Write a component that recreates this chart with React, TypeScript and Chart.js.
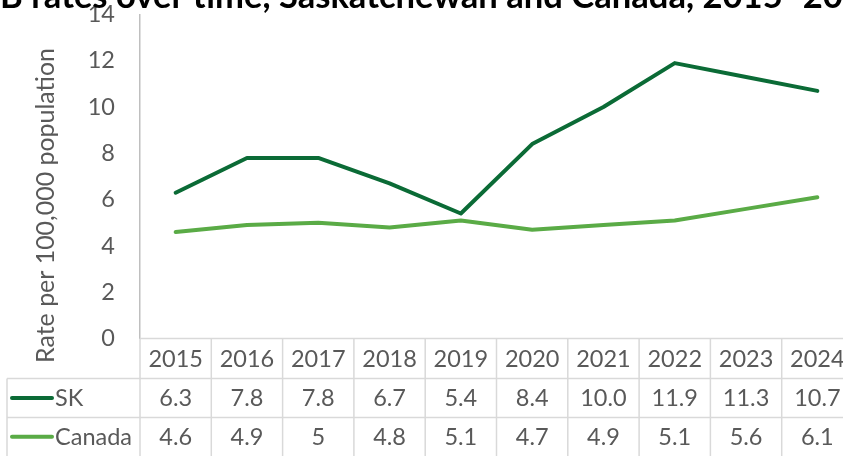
import React, { useEffect, useRef } from "react";
import { Chart, registerables } from "chart.js";

Chart.register(...registerables);

const years = ["2015", "2016", "2017", "2018", "2019", "2020", "2021", "2022", "2023", "2024"];
const skRates = [6.3, 7.8, 7.8, 6.7, 5.4, 8.4, 10.0, 11.9, 11.3, 10.7];
const canadaRates = [4.6, 4.9, 5, 4.8, 5.1, 4.7, 4.9, 5.1, 5.6, 6.1];
const seriesNames = ["SK", "Canada"];
const seriesColors = ["#0b6b36", "#5aab46"];
const yMin = 0;
const yMax = 14;
const yStep = 2;
const titleText = "TB rates over time, Saskatchewan and Canada, 2015–2024";
const yAxisTitle = "Rate per 100,000 population";

const TEXT = "#595959";
const GRID = "#d9d9d9";
const FONT = "Lato";

const tablePlugin = {
  id: "dataTable",
  afterDraw(chart: any) {
    const ctx = chart.ctx as CanvasRenderingContext2D;
    const area = chart.chartArea;
    const xs = chart.scales.x;
    const n = years.length;
    const colW = (area.right - area.left) / n;
    const top = area.bottom;
    const r1 = top + 40;
    const r2 = r1 + 39;
    const bottom = chart.height;
    ctx.save();
    ctx.strokeStyle = GRID;
    ctx.lineWidth = 1.5;
    const ln = (x1: number, y1: number, x2: number, y2: number) => {
      ctx.beginPath();
      ctx.moveTo(x1, y1);
      ctx.lineTo(x2, y2);
      ctx.stroke();
    };
    ln(area.left, top, area.right, top);
    ln(7, r1, area.right, r1);
    ln(7, r2, area.right, r2);
    ln(7, r1, 7, bottom);
    for (let i = 0; i <= n; i++) {
      const x = area.left + i * colW;
      ln(x, top, x, bottom);
    }
    const fs = 23.5;
    ctx.font = `${fs}px ${FONT}`;
    ctx.fillStyle = TEXT;
    ctx.textBaseline = "alphabetic";
    const off = fs * 0.36;
    const rowCenters = [(top + r1) / 2, (r1 + r2) / 2, (r2 + bottom) / 2];
    ctx.textAlign = "center";
    years.forEach((y, i) => {
      ctx.fillText(y, xs.getPixelForValue(i), rowCenters[0] + off);
    });
    skRates.forEach((v, i) => {
      ctx.fillText(v.toFixed(1), xs.getPixelForValue(i), rowCenters[1] + off);
    });
    canadaRates.forEach((v, i) => {
      ctx.fillText(String(v), xs.getPixelForValue(i), rowCenters[2] + off);
    });
    // legend keys
    seriesNames.forEach((name, k) => {
      const cy = rowCenters[k + 1];
      ctx.strokeStyle = seriesColors[k];
      ctx.lineWidth = 4;
      ctx.lineCap = "round";
      ln(12, cy, 52, cy);
      ctx.textAlign = "left";
      ctx.fillStyle = TEXT;
      ctx.fillText(name, 55, cy + off);
    });
    // y axis title
    ctx.save();
    ctx.translate(46, 205.5);
    ctx.rotate(-Math.PI / 2);
    ctx.font = `100px ${FONT}`;
    const aw = ctx.measureText(yAxisTitle).width;
    ctx.font = `${(100 * 315) / aw}px ${FONT}`;
    ctx.textAlign = "center";
    ctx.textBaseline = "middle";
    ctx.fillText(yAxisTitle, 0, 0);
    ctx.restore();
    // chart title (clipped at the top in the reference)
    ctx.font = `bold 100px ${FONT}`;
    const w = ctx.measureText("B rates over time, Saskatchewan and Canada, 2015").width;
    const size = (100 * 783) / w;
    ctx.font = `bold ${size}px ${FONT}`;
    const tW = ctx.measureText("T").width;
    ctx.fillStyle = "#000000";
    ctx.textAlign = "left";
    ctx.textBaseline = "alphabetic";
    ctx.fillText(titleText, -tW, 8);
    ctx.restore();
  },
};

export default function App() {
  const ref = useRef<HTMLCanvasElement | null>(null);
  useEffect(() => {
    if (!ref.current) return;
    const chart = new Chart(ref.current, {
      type: "line",
      data: {
        labels: years,
        datasets: [
          {
            label: seriesNames[0],
            data: skRates,
            borderColor: seriesColors[0],
            backgroundColor: seriesColors[0],
            borderWidth: 4,
            pointRadius: 0,
            fill: false,
            tension: 0,
            borderCapStyle: "round",
            borderJoinStyle: "round",
          },
          {
            label: seriesNames[1],
            data: canadaRates,
            borderColor: seriesColors[1],
            backgroundColor: seriesColors[1],
            borderWidth: 4,
            pointRadius: 0,
            fill: false,
            tension: 0,
            borderCapStyle: "round",
            borderJoinStyle: "round",
          },
        ],
      },
      options: {
        animation: false,
        responsive: false,
        layout: { padding: { top: 14.5, bottom: 117.5, left: 0, right: 7 } },
        plugins: {
          legend: { display: false },
          tooltip: { enabled: false },
          title: { display: false },
        },
        scales: {
          x: { type: "category", offset: true, display: false },
          y: {
            min: yMin,
            max: yMax,
            ticks: {
              stepSize: yStep,
              color: TEXT,
              font: { family: FONT, size: 23.5 },
              padding: 0,
            },
            grid: {
              display: true,
              drawOnChartArea: false,
              drawTicks: true,
              tickLength: 25,
              color: "rgba(0,0,0,0)",
            },
            border: { display: true, color: "#bfbfbf", width: 1.5 },
            afterFit: (s: any) => {
              s.width = 140;
            },
          },
        },
      },
      plugins: [tablePlugin],
    } as any);
    return () => chart.destroy();
  }, []);
  return (
    <div
      style={{
        position: "absolute",
        left: 0,
        top: 0,
        width: 843,
        height: 456,
        overflow: "hidden",
        background: "#ffffff",
      }}
    >
      <canvas ref={ref} width={860} height={456} style={{ display: "block", width: 860, height: 456 }} />
    </div>
  );
}
